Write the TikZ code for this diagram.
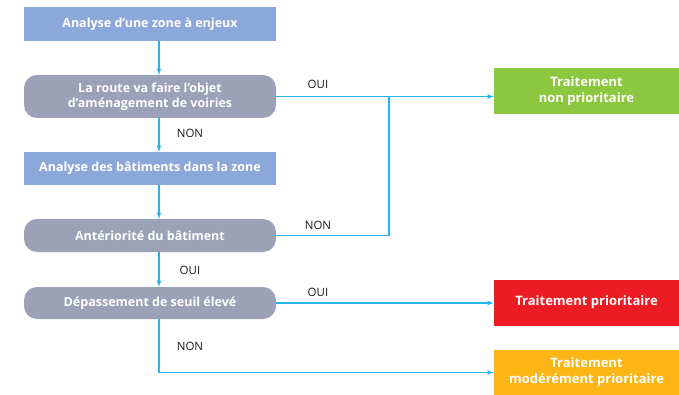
\documentclass[tikz,border=0pt]{standalone}
\usepackage{fontspec}
\setmainfont{Open Sans}
\usepackage{xcolor}
\newcommand{\apos}{\char"0027\relax}

\begin{document}
\begin{tikzpicture}[x=1pt,y=-1pt,
  bluebox/.style={rectangle,fill=boxblue,text=white,font=\bfseries\fontsize{12.5}{15}\selectfont,minimum width=252,minimum height=34,inner sep=0pt,align=center},
  greybox/.style={rectangle,rounded corners=13pt,fill=boxgrey,text=white,font=\bfseries\fontsize{12.5}{15.5}\selectfont,minimum width=252,minimum height=33,inner sep=0pt,align=center},
  endbox/.style={rectangle,text=white,font=\bfseries\fontsize{13}{16}\selectfont,minimum width=185,minimum height=46,inner sep=0pt,align=center},
  flow/.style={draw=flowcyan,line width=1.1pt,-{latex}},
  tag/.style={font=\fontsize{11.5}{13}\selectfont,text=black!90}]
\definecolor{boxblue}{HTML}{8CA8DA}
\definecolor{boxgrey}{HTML}{9BA1B6}
\definecolor{flowcyan}{HTML}{22B5EE}
\definecolor{green}{HTML}{8DC63F}
\definecolor{red}{HTML}{ED1C24}
\definecolor{orange}{HTML}{FBB616}
\useasboundingbox (0,0) rectangle (679,395);

% left column
\node[bluebox] (zone) at (150,24) {Analyse d\apos une zone à enjeux};
\node[greybox,minimum height=43] (route) at (150,96.5) {La route va faire l\apos objet\\d\apos aménagement de voiries};
\node[bluebox,minimum height=33] (batis) at (150,168.5) {Analyse des bâtiments dans la zone};
\node[greybox] (anterior) at (150,235.5) {Antériorité du bâtiment};
\node[greybox,minimum height=32] (seuil) at (150,303) {Dépassement de seuil élevé};

% right column
\node[endbox,fill=green] (nonprio) at (586.5,91) {Traitement\\non prioritaire};
\node[endbox,fill=red] (prio) at (586.5,302.5) {Traitement prioritaire};
\node[endbox,fill=orange,minimum height=45] (modere) at (586.5,372.5) {Traitement\\modérément prioritaire};
\coordinate (joint) at (389,96.5);

% connectors
\draw[flow] ([xshift=9]zone.south) -- ([xshift=9]route.north);
\draw[flow] ([xshift=9]route.south) -- ([xshift=9]batis.north);
\draw[flow] ([xshift=9]batis.south) -- ([xshift=9]anterior.north);
\draw[flow] ([xshift=9]anterior.south) -- ([xshift=9]seuil.north);
\draw[flow] (route.east) -- (route.east -| nonprio.west);
\draw[draw=flowcyan,line width=1.1pt] (anterior.east) -| (joint);
\draw[flow] (seuil.east) -- (seuil.east -| prio.west);
\draw[flow] ([xshift=9]seuil.south) |- (modere.west);

% answers
\node[tag] (oui1) at (318,84) {OUI};
\node[tag] (non1) at (190,133) {NON};
\node[tag] (non2) at (318,225) {NON};
\node[tag] (oui2) at (190,270) {OUI};
\node[tag] (oui3) at (318,292) {OUI};
\node[tag] (non3) at (190,346) {NON};
\end{tikzpicture}
\end{document}
